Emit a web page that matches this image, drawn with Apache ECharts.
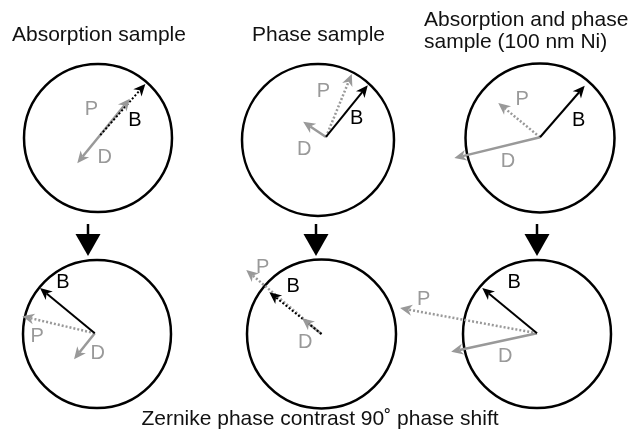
<!DOCTYPE html>
<html><head><meta charset="utf-8">
<script src="https://cdn.jsdelivr.net/npm/echarts@6/dist/echarts.min.js"></script>
<style>html,body{margin:0;padding:0;background:#fff}#c{width:642px;height:432px}</style>
</head><body><div id="c"></div>
<script>
// ---- data: phasors in units of the circle radius (y up), relative to circle centre ----
const panelTitles = ['Absorption sample', 'Phase sample', 'Absorption and phase\nsample (100 nm Ni)'];
const bottomCaption = 'Zernike phase contrast 90˚ phase shift';
const phasorNames = ['B', 'P', 'D'];
const originX = [0.03, 0.105, 0.00, -0.03, 0.00, 0.00];
const originY = [0.04, 0.04, 0.01, 0.01, 0.00, 0.01];
const bVecX = [0.61, 0.55, 0.60, -0.74, -0.70, -0.74];
const bVecY = [0.69, 0.68, 0.69, 0.61, 0.56, 0.61];
const pVecX = [0.40, 0.34, -0.56, -0.98, -1.01, -1.85];
const pVecY = [0.49, 0.83, 0.46, 0.23, 0.86, 0.34];
const dVecX = [-0.31, -0.30, -1.15, -0.28, -0.26, -1.16];
const dVecY = [-0.38, 0.20, -0.28, -0.35, 0.21, -0.25];

// ---- layout / styles ----
const panelLayout = [ // circle centre (px) and radius (px)
  {cx: 98, cy: 138, r: 74}, {cx: 318, cy: 140, r: 76}, {cx: 540, cy: 138, r: 74.5},
  {cx: 97, cy: 334, r: 74}, {cx: 321.5, cy: 334, r: 74.5}, {cx: 537, cy: 334, r: 74}
];
const labelPos = [ // [B, P, D] label positions in panel units
  [[0.50, 0.24], [-0.09, 0.38], [0.09, -0.26]],
  [[0.51, 0.28], [0.07, 0.64], [-0.18, -0.12]],
  [[0.52, 0.24], [-0.24, 0.52], [-0.43, -0.31]],
  [[-0.46, 0.69], [-0.81, -0.03], [0.01, -0.26]],
  [[-0.38, 0.64], [-0.79, 0.89], [-0.22, -0.12]],
  [[-0.31, 0.69], [-1.53, 0.46], [-0.43, -0.31]]
];
const bDotted = [true, false, false, false, true, false];
const pDotted = [false, true, true, true, true, true];
const GRAY = '#999999';
const FONT = '"Liberation Sans", Arial, Helvetica, sans-serif';

const grids = [], xAxes = [], yAxes = [], series = [];
panelLayout.forEach((L, i) => {
  grids.push({left: L.cx - L.r, top: L.cy - L.r, width: 2 * L.r, height: 2 * L.r});
  xAxes.push({type: 'value', gridIndex: i, min: -1, max: 1, show: false});
  yAxes.push({type: 'value', gridIndex: i, min: -1, max: 1, show: false});
  series.push({
    type: 'custom', xAxisIndex: i, yAxisIndex: i, silent: true,
    data: [[0, 0]],
    renderItem: (params, api) => {
      const c = api.coord([0, 0]);
      const r = api.size([1, 0])[0];
      return {type: 'circle', shape: {cx: c[0], cy: c[1], r: r},
        style: {fill: 'none', stroke: '#000', lineWidth: 2.5}, z2: 0};
    }
  });
  const ox = originX[i], oy = originY[i];
  const rows = [
    [ox, oy, ox + bVecX[i], oy + bVecY[i], 0],
    [ox, oy, ox + pVecX[i], oy + pVecY[i], 1],
    [ox, oy, ox + dVecX[i], oy + dVecY[i], 2]
  ];
  series.push({
    type: 'custom', xAxisIndex: i, yAxisIndex: i, silent: true,
    data: rows,
    renderItem: (params, api) => {
      const role = api.value(4);
      const p0 = api.coord([api.value(0), api.value(1)]);
      const p1 = api.coord([api.value(2), api.value(3)]);
      const black = role === 0;
      const color = black ? '#000' : GRAY;
      const dotted = role === 0 ? bDotted[i] : (role === 1 ? pDotted[i] : false);
      const lw = black ? 2 : 2.5;
      const dx = p1[0] - p0[0], dy = p1[1] - p0[1];
      const len = Math.sqrt(dx * dx + dy * dy) || 1;
      const ux = dx / len, uy = dy / len, nx = -uy, ny = ux;
      const HL = 12, HW = 5.5, NOTCH = 3.5;
      const nb = [p1[0] - ux * (HL - NOTCH), p1[1] - uy * (HL - NOTCH)];
      const head = [
        [p1[0], p1[1]],
        [p1[0] - ux * HL + nx * HW, p1[1] - uy * HL + ny * HW],
        nb,
        [p1[0] - ux * HL - nx * HW, p1[1] - uy * HL - ny * HW]
      ];
      const lp = labelPos[i][role];
      const lc = api.coord(lp);
      return {type: 'group', children: [
        {type: 'line', shape: {x1: p0[0], y1: p0[1], x2: nb[0], y2: nb[1]},
          style: {stroke: color, lineWidth: lw, lineDash: dotted ? [2, 2] : null},
          z2: black ? 2 : 1},
        {type: 'polygon', shape: {points: head}, style: {fill: color}, z2: 3},
        {type: 'text', x: lc[0], y: lc[1], z2: 4,
          style: {text: phasorNames[role], fill: color, font: '20px ' + FONT,
            align: 'center', verticalAlign: 'middle'}}
      ]};
    }
  });
});

// titles, caption and the down arrows between rows
const graphic = [];
const titleX = [12, 318.5, 424];
const titleAlign = ['left', 'center', 'left'];
const titleY = [[35.7], [35.7], [20.7, 42.7]];
panelTitles.forEach((t, k) => {
  t.split('\n').forEach((line, j) => {
    graphic.push({type: 'text', x: titleX[k], y: titleY[k][j],
      style: {text: line, fill: '#111', font: '21px ' + FONT, align: titleAlign[k], verticalAlign: 'middle'}});
  });
});
graphic.push({type: 'text', x: 320, y: 419.7,
  style: {text: bottomCaption, fill: '#111', font: '21px ' + FONT, align: 'center', verticalAlign: 'middle'}});
[88, 316, 537].forEach(ax => {
  graphic.push({type: 'line', shape: {x1: ax, y1: 224, x2: ax, y2: 240}, style: {stroke: '#000', lineWidth: 2.5}});
  graphic.push({type: 'polygon', shape: {points: [[ax - 12.5, 234], [ax + 12.5, 234], [ax, 256]]}, style: {fill: '#000'}});
});

const chart = echarts.init(document.getElementById('c'), null, {renderer: 'canvas'});
chart.setOption({
  animation: false,
  backgroundColor: '#fff',
  grid: grids, xAxis: xAxes, yAxis: yAxes, series: series, graphic: graphic
});
</script></body></html>
